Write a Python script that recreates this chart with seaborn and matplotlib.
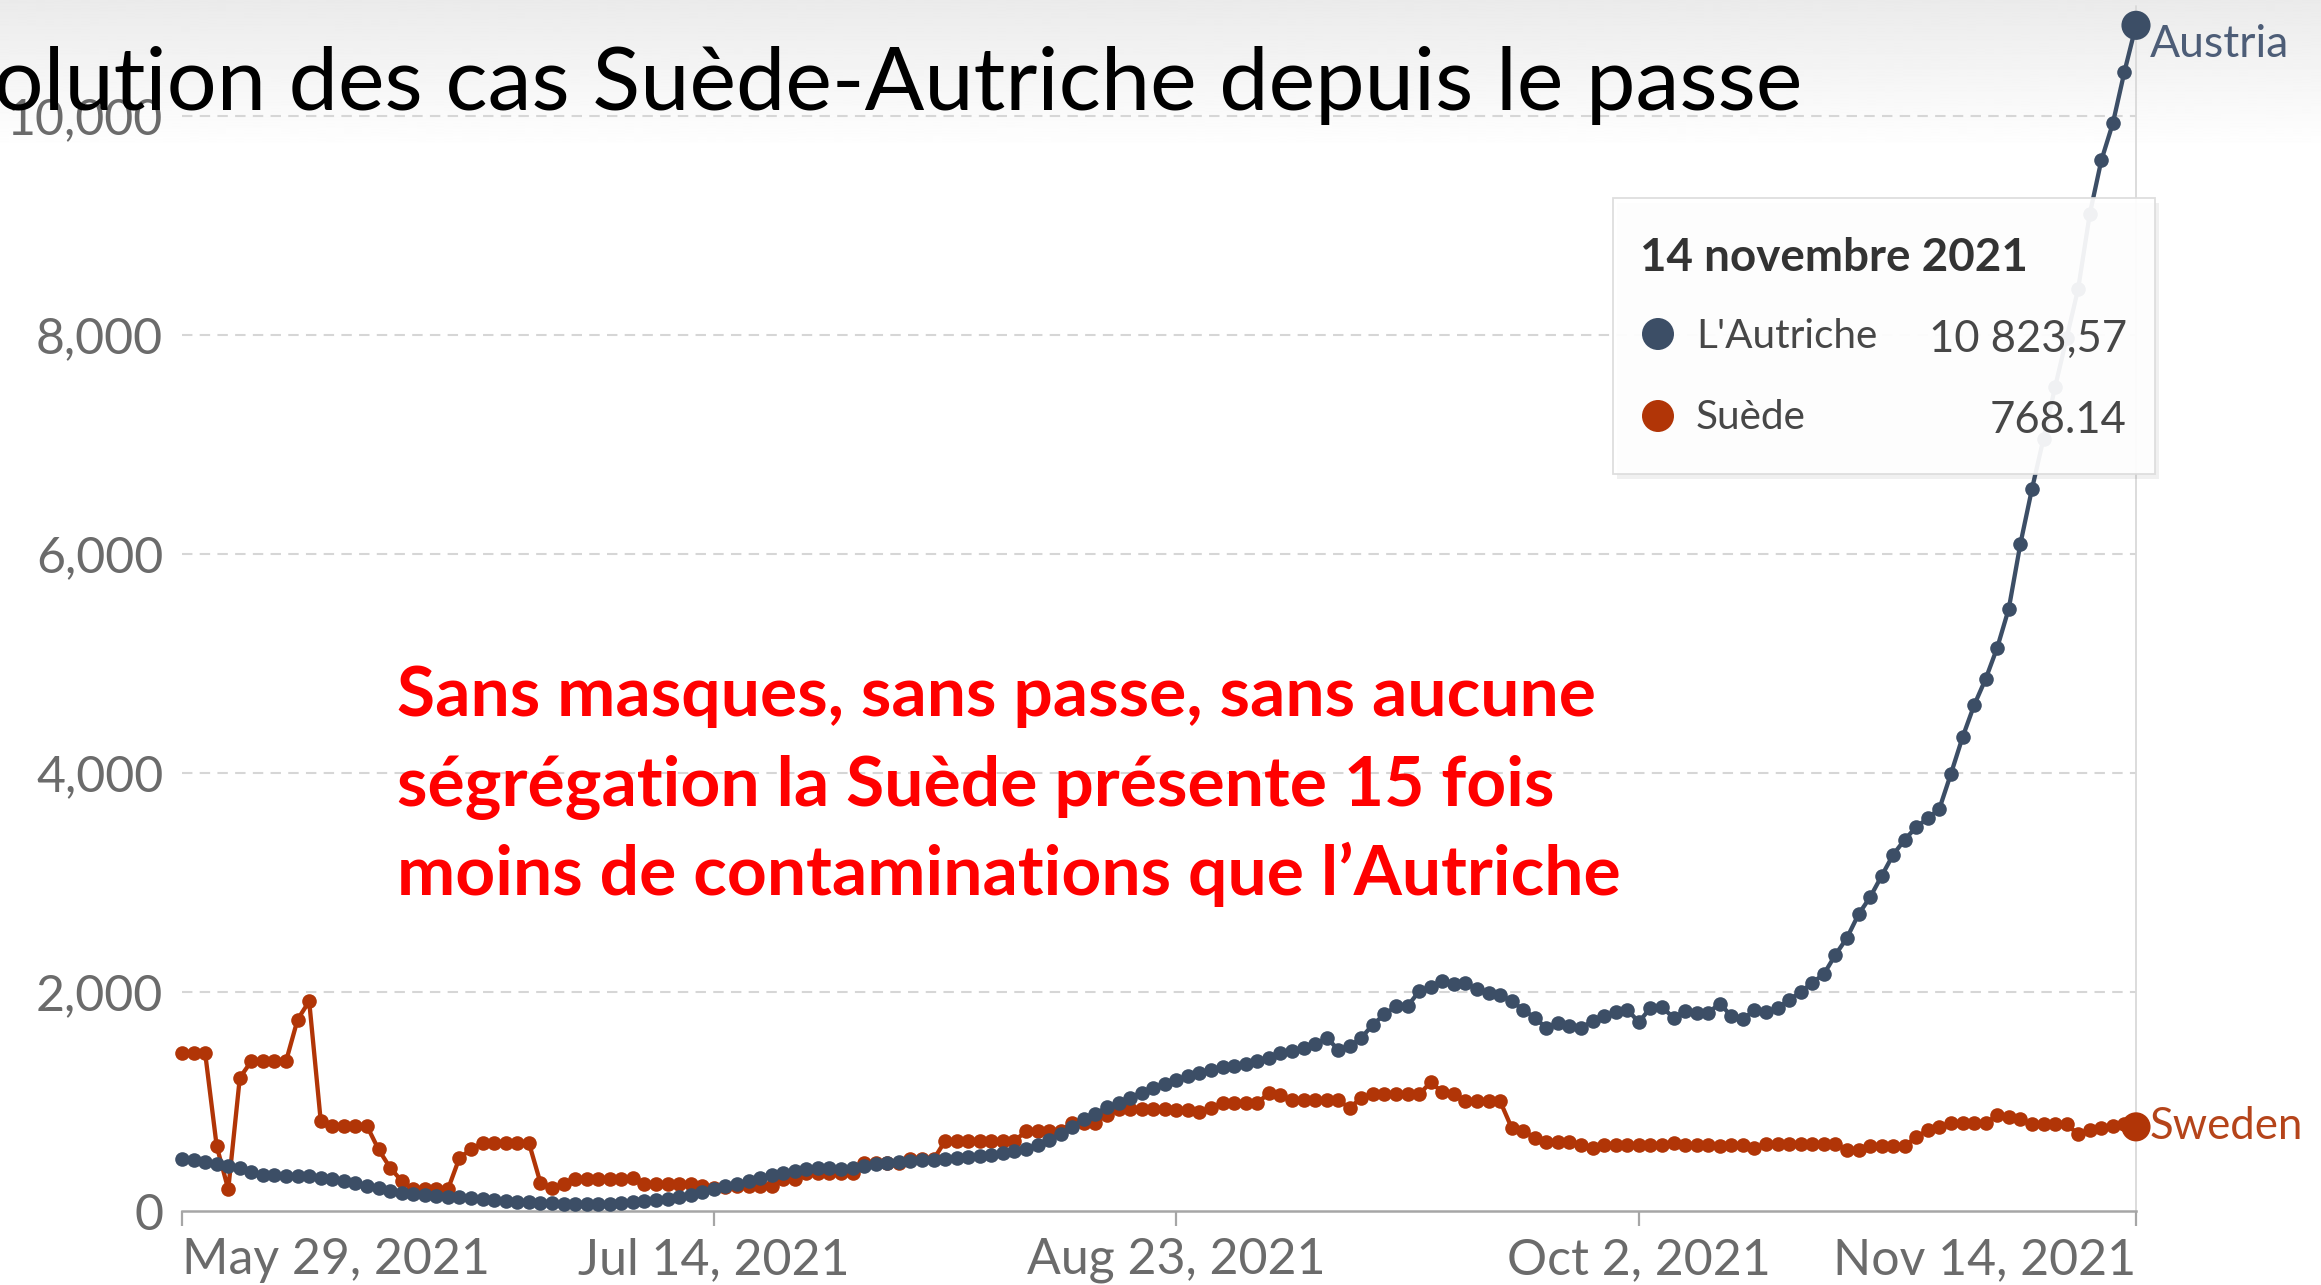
import numpy as np
import pandas as pd
import matplotlib
matplotlib.use("Agg")
import matplotlib.pyplot as plt
import seaborn as sns
from matplotlib.patches import Rectangle, Ellipse

# ---------------- data ----------------
start_date = "2021-05-29"
end_date = "2021-11-14"
countries = ["Austria", "Sweden"]

austria = [
    477, 462, 447, 426, 410, 395, 360, 330, 325, 320,
    319, 315, 300, 289, 275, 255, 230, 210, 185, 167,
    155, 145, 137, 130, 125, 122, 110, 100, 91, 85,
    80, 76, 70, 65, 61, 60, 60, 61, 70, 80,
    91, 100, 110, 125, 145, 170, 198, 225, 250, 274,
    300, 330, 350, 365, 385, 395, 390, 382, 395, 410,
    426, 435, 445, 456, 462, 470, 477, 485, 495, 502,
    515, 530, 547, 570, 605, 645, 700, 770, 836, 890,
    945, 988, 1035, 1080, 1125, 1160, 1195, 1231, 1260, 1290,
    1310, 1325, 1338, 1370, 1398, 1444, 1459, 1490, 1520, 1581,
    1474, 1505, 1581, 1702, 1794, 1870, 1870, 2006, 2046, 2098,
    2073, 2082, 2022, 1991, 1976, 1915, 1839, 1763, 1672, 1718,
    1693, 1672, 1733, 1778, 1815, 1839, 1724, 1854, 1864, 1763,
    1824, 1809, 1809, 1894, 1780, 1753, 1831, 1819, 1851, 1928,
    1999, 2084, 2162, 2338, 2493, 2708, 2864, 3058, 3253, 3390,
    3506, 3584, 3674, 3993, 4325, 4617, 4858, 5143, 5500, 6090,
    6590, 7050, 7520, 7970, 8420, 9100, 9590, 9930, 10400, 10823.57,
]

sweden = [
    1444, 1444, 1444, 593, 198, 1216, 1368, 1368, 1368, 1368,
    1748, 1915, 821, 775, 775, 775, 775, 562, 395, 274,
    198, 198, 198, 198, 486, 562, 623, 623, 623, 623,
    623, 258, 213, 243, 289, 289, 289, 289, 289, 304,
    243, 243, 243, 243, 250, 230, 213, 220, 228, 228,
    228, 228, 289, 289, 350, 350, 350, 350, 350, 441,
    441, 441, 441, 471, 471, 471, 638, 638, 638, 638,
    638, 638, 638, 730, 730, 730, 730, 806, 806, 806,
    880, 927, 927, 927, 927, 927, 920, 920, 905, 942,
    982, 982, 982, 982, 1079, 1055, 1009, 1009, 1009, 1009,
    1009, 942, 1034, 1064, 1064, 1064, 1064, 1064, 1176, 1085,
    1064, 1003, 1003, 1003, 1003, 760, 730, 669, 629, 629,
    629, 599, 578, 599, 599, 599, 599, 599, 599, 623,
    599, 599, 599, 590, 604, 604, 573, 612, 612, 612,
    612, 612, 612, 612, 557, 557, 596, 596, 596, 596,
    674, 740, 767, 799, 799, 799, 799, 877, 857, 838,
    791, 791, 791, 791, 701, 740, 760, 779, 791, 768.14,
]

y_ticks = [0, 2000, 4000, 6000, 8000, 10000]
y_tick_labels = ["0", "2,000", "4,000", "6,000", "8,000", "10,000"]
x_tick_dates = ["2021-05-29", "2021-07-14", "2021-08-23", "2021-10-02", "2021-11-14"]
x_tick_labels = ["May 29, 2021", "Jul 14, 2021", "Aug 23, 2021", "Oct 2, 2021", "Nov 14, 2021"]

title_text = "Évolution des cas Suède-Autriche depuis le passe"
title_hidden_prefix = "Év"
note_lines = [
    "Sans masques, sans passe, sans aucune",
    "ségrégation la Suède présente 15 fois",
    "moins de contaminations que l’Autriche",
]
tooltip_date = "14 novembre 2021"
tooltip_names = ["L'Autriche", "Suède"]
tooltip_values = ["10 823,57", "768.14"]

# ---------------- style ----------------
AUT_COL = "#3C4E66"
SWE_COL = "#B13507"
W, H = 2321, 1285

sns.set_theme(style="white")
plt.rcParams["font.family"] = ["Lato", "DejaVu Sans"]

fig = plt.figure(figsize=(W / 100, H / 100), dpi=100)
fig.patch.set_facecolor("white")
renderer = fig.canvas.get_renderer()


def fx(x):
    return x / W


def fy(y):
    return 1 - y / H


# soft grey gradient at the top (slide background)
bg = fig.add_axes([0, fy(150), 1, 150 / H], zorder=-5)
grad = np.linspace(0.92, 1.0, 200)[:, None]
bg.imshow(grad, cmap="gray", vmin=0, vmax=1, aspect="auto", extent=[0, 1, 0, 1])
bg.axis("off")

# ---------------- main chart ----------------
dates = pd.date_range(start_date, end_date, freq="D")
df = pd.DataFrame({
    "date": list(dates) * 2,
    "value": austria + sweden,
    "country": ["Austria"] * len(austria) + ["Sweden"] * len(sweden),
})
palette = {"Austria": AUT_COL, "Sweden": SWE_COL}

ax = fig.add_axes([fx(182), fy(1211), (2136 - 182) / W, 1205 / H])
ax.set_facecolor("none")

ax.axvline(dates[-1], color="#d9d9d9", lw=1.3, zorder=1)

sns.lineplot(data=df, x="date", y="value", hue="country",
             hue_order=["Sweden", "Austria"], palette=palette,
             marker="o", markersize=10.5, markeredgewidth=0,
             linewidth=3.1, legend=False, errorbar=None, ax=ax, zorder=3)
for ln in ax.lines:
    ln.set_clip_on(False)

last = df[df["date"] == dates[-1]]
sns.scatterplot(data=last, x="date", y="value", hue="country", palette=palette,
                s=440, linewidth=0, legend=False, ax=ax, zorder=5, clip_on=False)

ax.set_xlim(dates[0], dates[-1])
ax.set_ylim(0, 11000)
ax.set_yticks(y_ticks)
ax.set_yticklabels(y_tick_labels)
ax.set_xticks(pd.to_datetime(x_tick_dates))
ax.set_xticklabels(x_tick_labels)
ax.set_xlabel("")
ax.set_ylabel("")

for yv in y_ticks[1:]:
    ax.axhline(yv, color="#d6d6d6", lw=1.5, linestyle=(0, (5, 3.5)), zorder=0)

for s in ["left", "right", "top"]:
    ax.spines[s].set_visible(False)
ax.spines["bottom"].set_color("#a6a6a6")
ax.spines["bottom"].set_linewidth(1.8)
ax.spines["bottom"].set_zorder(2)

ax.tick_params(axis="y", left=False, length=0, pad=13.5, labelsize=36,
               labelcolor="#6b6b6b")
ax.tick_params(axis="x", bottom=True, length=11, width=1.6, color="#a6a6a6",
               direction="out", pad=8, labelsize=36, labelcolor="#6b6b6b")
xl = ax.get_xticklabels()
xl[0].set_ha("left")
xl[-1].set_ha("right")

ax.annotate("Austria", xy=(dates[-1], austria[-1]), xytext=(10, -14),
            textcoords="offset points", ha="left", va="center",
            fontsize=32, color="#4d5d77", annotation_clip=False)
ax.annotate("Sweden", xy=(dates[-1], sweden[-1]), xytext=(10, 0),
            textcoords="offset points", ha="left", va="center",
            fontsize=31.5, color="#b5441a", annotation_clip=False)

# ---------------- title (cut at the left edge) ----------------
base = 50
tr = fig.text(0, 0, title_text[len(title_hidden_prefix):], fontsize=base)
w_rest = tr.get_window_extent(renderer).width
tr.remove()
fs = base * 1808 / w_rest
fig.text(fx(1802), fy(110), title_text, fontsize=fs, color="black",
         ha="right", va="baseline", zorder=10)


def fit_text(x, y, s, width, base=40, **kw):
    t = fig.text(x, y, s, fontsize=base, **kw)
    w = t.get_window_extent(renderer).width
    t.set_fontsize(base * width / w)
    return t


# ---------------- red annotation ----------------
probe = fig.text(0, 0, note_lines[1], fontsize=40, fontweight="bold")
wp = probe.get_window_extent(renderer).width
probe.remove()
note_fs = 40 * 1155 / wp
for line, yb in zip(note_lines, [716, 806, 895]):
    fig.text(fx(397), fy(yb), line, fontsize=note_fs, fontweight="bold",
             color="#ff0000", va="baseline", ha="left", zorder=10)

# ---------------- tooltip ----------------
bx0, by0, bx1, by1 = 1613, 198, 2155, 474
fig.add_artist(Rectangle((fx(bx0 + 4), fy(by1 + 5)), (bx1 - bx0) / W, (by1 - by0) / H,
                         transform=fig.transFigure, fc="black", alpha=0.06, lw=0, zorder=8))
fig.add_artist(Rectangle((fx(bx0), fy(by1)), (bx1 - bx0) / W, (by1 - by0) / H,
                         transform=fig.transFigure, fc="white", ec="#dcdcdc",
                         lw=1.3, alpha=0.93, zorder=9))

fit_text(fx(1640), fy(271), tooltip_date, 388, fontweight="bold", color="#333333",
         va="baseline", zorder=11)

probe = fig.text(0, 0, "L'Autriche", fontsize=40)
wp = probe.get_window_extent(renderer).width
probe.remove()
row_fs = 40 * 181 / wp
row_y = [336, 418]
row_col = [AUT_COL, SWE_COL]
for name, val, yc, col in zip(tooltip_names, tooltip_values, row_y, row_col):
    fig.add_artist(Ellipse((fx(1658), fy(yc - 2)), 32 / W, 32 / H,
                           transform=fig.transFigure, fc=col, lw=0, zorder=11))
    fig.text(fx(1696), fy(yc), name, fontsize=row_fs, color="#474747",
             va="center", ha="left", zorder=11)
    fig.text(fx(2127), fy(yc + 3), val, fontsize=row_fs * 1.08, color="#474747",
             va="center", ha="right", zorder=11)

fig.savefig("out.png", dpi=100, facecolor="white")
